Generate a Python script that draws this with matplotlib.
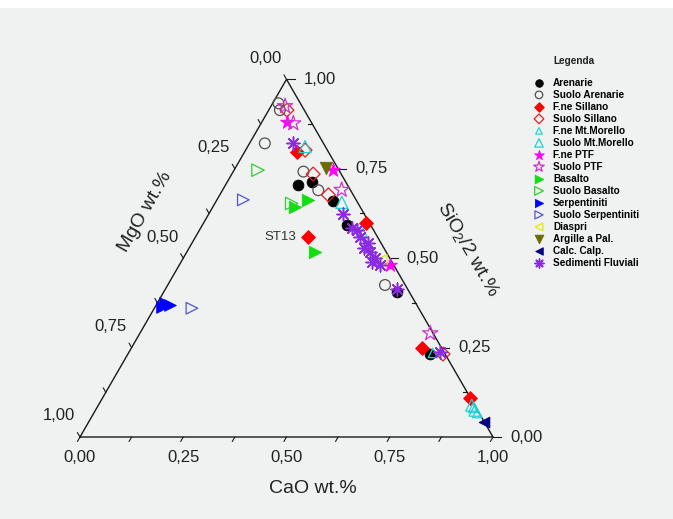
import numpy as np
import matplotlib
matplotlib.use("Agg")
import matplotlib.pyplot as plt
from matplotlib.patches import Rectangle

plt.rcParams["font.family"] = ["Liberation Sans", "DejaVu Sans"]

# Compositions as (CaO, MgO, SiO2/2) fractions.
ARENARIE = [(0.176, 0.119, 0.705), (0.204, 0.082, 0.714), (0.283, 0.057, 0.660),
            (0.351, 0.056, 0.593), (0.564, 0.031, 0.405), (0.732, 0.036, 0.232)]
SUOLO_ARENARIE = [(0.014, 0.053, 0.933), (0.027, 0.059, 0.914), (0.037, 0.142, 0.821),
                  (0.170, 0.088, 0.742), (0.232, 0.078, 0.690), (0.526, 0.049, 0.425)]
FNE_SILLANO = [(0.126, 0.076, 0.798), (0.393, 0.008, 0.599), (0.273, 0.167, 0.560),
               (0.703, 0.049, 0.248), (0.890, 0.002, 0.108)]
SUOLO_SILLANO = [(0.044, 0.042, 0.914), (0.144, 0.054, 0.802), (0.197, 0.068, 0.735),
                 (0.263, 0.060, 0.677), (0.763, 0.005, 0.232)]
FNE_MORELLO = [(0.400, 0.030, 0.570), (0.737, 0.028, 0.235), (0.911, 0.008, 0.081),
               (0.928, 0.005, 0.067)]
SUOLO_MORELLO = [(0.139, 0.049, 0.812), (0.306, 0.038, 0.656), (0.919, 0.006, 0.075),
                 (0.904, 0.007, 0.089)]
FNE_PTF = [(0.061, 0.058, 0.881), (0.238, 0.015, 0.747), (0.510, 0.009, 0.481)]
SUOLO_PTF = [(0.078, 0.045, 0.877), (0.034, 0.041, 0.925), (0.288, 0.021, 0.691),
             (0.703, 0.007, 0.290)]
BASALTO = [(0.199, 0.157, 0.644), (0.222, 0.116, 0.663), (0.310, 0.172, 0.518)]
SUOLO_BASALTO = [(0.058, 0.196, 0.746), (0.186, 0.161, 0.653)]
SERPENTINITI = [(0.019, 0.607, 0.374), (0.033, 0.598, 0.369), (0.016, 0.620, 0.364)]
SUOLO_SERPENTINITI = [(0.064, 0.273, 0.663), (0.091, 0.549, 0.360)]
DIASPRI = [(0.483, 0.022, 0.495)]
ARGILLE = [(0.218, 0.029, 0.753)]
CALC_CALP = [(0.957, 0.000, 0.043)]
SEDIMENTI = [(0.106, 0.073, 0.821), (0.326, 0.051, 0.623), (0.381, 0.041, 0.579),
             (0.398, 0.042, 0.560), (0.427, 0.031, 0.542), (0.443, 0.039, 0.518),
             (0.465, 0.036, 0.500), (0.486, 0.033, 0.481), (0.560, 0.026, 0.414),
             (0.753, 0.009, 0.238), (0.367, 0.049, 0.584), (0.424, 0.048, 0.528),
             (0.462, 0.048, 0.489)]

ST13 = (0.273, 0.167, 0.560)

MAJOR = [0.0, 0.25, 0.5, 0.75, 1.0]
MAJOR_LABELS = ["0,00", "0,25", "0,50", "0,75", "1,00"]
MINOR = [0.125, 0.375, 0.625, 0.875]

# label, data, marker, face, edge, size
SERIES = [
    ("Arenarie", ARENARIE, "o", "black", "black", 60),
    ("Suolo Arenarie", SUOLO_ARENARIE, "o", "none", "#505050", 60),
    ("F.ne Sillano", FNE_SILLANO, "D", "#ff0000", "#ff0000", 50),
    ("Suolo Sillano", SUOLO_SILLANO, "D", "none", "#e02020", 50),
    ("F.ne Mt.Morello", FNE_MORELLO, "^", "none", "#20d8d8", 45),
    ("Suolo Mt.Morello", SUOLO_MORELLO, "^", "none", "#20d0d0", 75),
    ("F.ne PTF", FNE_PTF, "*", "#ff00ff", "#ff00ff", 110),
    ("Suolo PTF", SUOLO_PTF, "*", "none", "#cc33cc", 130),
    ("Basalto", BASALTO, ">", "#11dd11", "#11dd11", 80),
    ("Suolo Basalto", SUOLO_BASALTO, ">", "none", "#33cc33", 80),
    ("Serpentiniti", SERPENTINITI, ">", "#0000ff", "#0000ff", 70),
    ("Suolo Serpentiniti", SUOLO_SERPENTINITI, ">", "none", "#5555cc", 70),
    ("Diaspri", DIASPRI, "<", "none", "#e8e800", 60),
    ("Argille a Pal.", ARGILLE, "v", "#6b6b00", "#6b6b00", 80),
    ("Calc. Calp.", CALC_CALP, "<", "#000080", "#000080", 60),
    ("Sedimenti Fluviali", SEDIMENTI, (8, 2, 0), "#8a2be2", "#8a2be2", 85),
]

SQ = np.sqrt(3) / 2
PX = 1 / 413.0  # data units per pixel


def to_xy(comp):
    comp = np.atleast_2d(np.asarray(comp, dtype=float))
    tot = comp.sum(axis=1)
    cao, si = comp[:, 0] / tot, comp[:, 2] / tot
    return cao + si / 2, si * SQ


fig = plt.figure(figsize=(6.73, 5.19), dpi=100, facecolor="#f0f1f1")
fig.patches.append(Rectangle((0, 1 - 8 / 519), 1, 8 / 519, transform=fig.transFigure,
                             facecolor="white", edgecolor="none"))
ax = fig.add_axes([0, 0, 1, 1])
ax.set_xlim(-80 * PX, 593 * PX)
ax.set_ylim(-82 * PX, 437 * PX)
ax.axis("off")

# triangle frame
ax.plot([0, 1, 0.5, 0], [0, 0, SQ, 0], color="#1a1a1a", lw=1.0, zorder=2)

tick_kw = dict(color="#1a1a1a", lw=0.8, zorder=2)
for t in MAJOR + MINOR:
    major = t in MAJOR
    # bottom axis (CaO): ticks parallel to the left edge
    L = 5 * PX
    ax.plot([t, t - 0.5 * L], [0, -SQ * L], **tick_kw)
    # left axis (MgO): ticks parallel to the right edge, pointing out
    si = 1 - t
    x0, y0 = si / 2, si * SQ
    ax.plot([x0, x0 - 0.5 * L], [y0, y0 + SQ * L], **tick_kw)
    # right axis (SiO2/2): horizontal ticks
    x0, y0 = 1 - t / 2, t * SQ
    if major:
        ax.plot([x0, x0 + 8 * PX], [y0, y0], **tick_kw)
    else:
        ax.plot([x0, x0 - 4 * PX], [y0, y0], **tick_kw)

lab_kw = dict(fontsize=12, color="#222222")
for t, lab in zip(MAJOR, MAJOR_LABELS):
    ax.text(t, -20 * PX, lab, ha="center", va="center", **lab_kw)
    ax.text(1 - t / 2 + 17 * PX, t * SQ, lab, ha="left", va="center", **lab_kw)
    si = 1 - t
    ax.text(si / 2 - 21 * PX, si * SQ + 21 * PX, lab, ha="center", va="center", **lab_kw)

ax.text(0.564, -0.1235, "CaO wt.%", ha="center", va="center", fontsize=14, color="#222222")
ax.text(0.157, 0.545, "MgO wt.%", ha="center", va="center", rotation=60,
        fontsize=14, color="#222222")
ax.text(0.937, 0.453, r"SiO$_\mathregular{2}$/2 wt.%", ha="center", va="center",
        rotation=-60, fontsize=14, color="#222222")

handles = []
for label, data, marker, face, edge, size in SERIES:
    x, y = to_xy(data)
    if face == "none":
        h = ax.scatter(x, y, s=size, marker=marker, facecolors="none", edgecolors=edge,
                       linewidths=0.9, label=label, zorder=3)
    elif isinstance(marker, tuple):
        h = ax.scatter(x, y, s=size, marker=marker, c=edge, linewidths=1.1,
                       label=label, zorder=4)
    else:
        h = ax.scatter(x, y, s=size, marker=marker, facecolors=face, edgecolors=edge,
                       linewidths=0.6, label=label, zorder=3)
    handles.append(h)

sx, sy = to_xy(ST13)
ax.annotate("ST13", (sx[0], sy[0]), xytext=(-9, 0), textcoords="offset points",
            ha="right", va="center", fontsize=9.5, color="#333333")

fig.text(553 / 673, 1 - 61 / 519, "Legenda", ha="left", va="center",
         fontsize=7.2, fontweight="bold", color="#222222")
fig.legend(handles=handles, loc="upper left", bbox_to_anchor=(534 / 673, 1 - 77.5 / 519),
           frameon=False, borderpad=0, borderaxespad=0, labelspacing=0.2,
           handlelength=1.0, handletextpad=0.9, markerscale=0.7,
           prop=dict(weight="bold", size=7.2))

fig.savefig("out.png", dpi=100, facecolor=fig.get_facecolor())
